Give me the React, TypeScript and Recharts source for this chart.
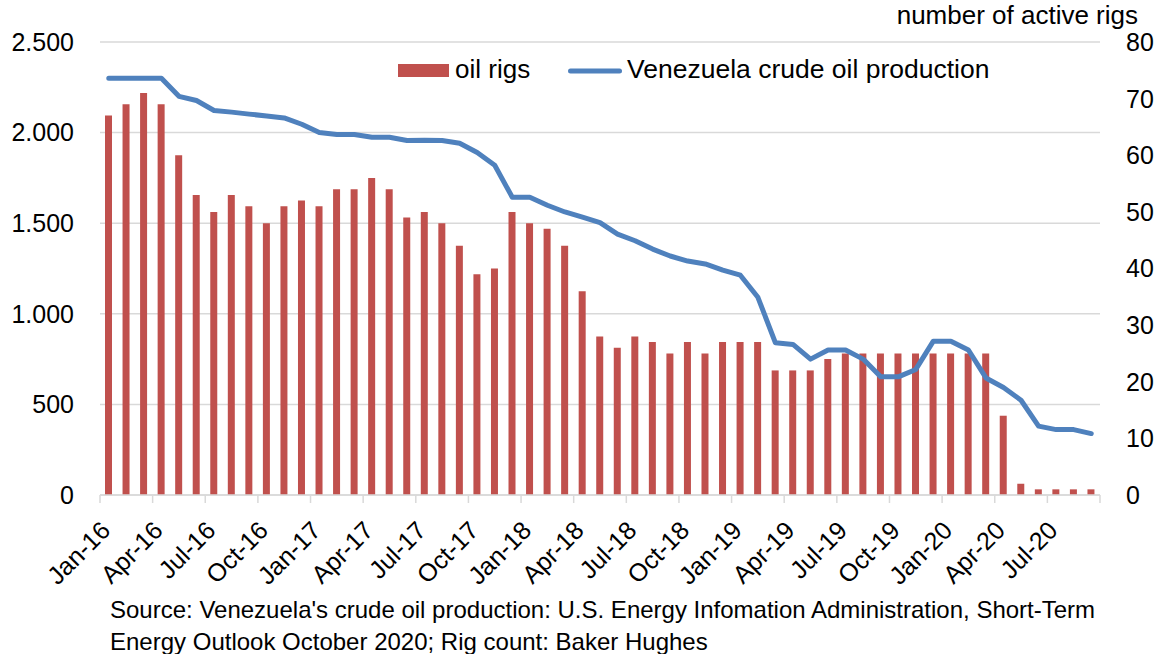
import React from "react";
import {
  ComposedChart,
  Bar,
  Line,
  XAxis,
  YAxis,
  CartesianGrid,
  Legend,
} from "recharts";

const months = [
  "Jan-16", "Feb-16", "Mar-16", "Apr-16", "May-16", "Jun-16", "Jul-16", "Aug-16", "Sep-16", "Oct-16", "Nov-16", "Dec-16",
  "Jan-17", "Feb-17", "Mar-17", "Apr-17", "May-17", "Jun-17", "Jul-17", "Aug-17", "Sep-17", "Oct-17", "Nov-17", "Dec-17",
  "Jan-18", "Feb-18", "Mar-18", "Apr-18", "May-18", "Jun-18", "Jul-18", "Aug-18", "Sep-18", "Oct-18", "Nov-18", "Dec-18",
  "Jan-19", "Feb-19", "Mar-19", "Apr-19", "May-19", "Jun-19", "Jul-19", "Aug-19", "Sep-19", "Oct-19", "Nov-19", "Dec-19",
  "Jan-20", "Feb-20", "Mar-20", "Apr-20", "May-20", "Jun-20", "Jul-20", "Aug-20", "Sep-20",
];

// number of active oil rigs (right axis)
const oilRigs = [
  67, 69, 71, 69, 60, 53, 50, 53, 51, 48, 51, 52,
  51, 54, 54, 56, 54, 49, 50, 48, 44, 39, 40, 50,
  48, 47, 44, 36, 28, 26, 28, 27, 25, 27, 25, 27,
  27, 27, 22, 22, 22, 24, 25, 25, 25, 25, 25, 25,
  25, 25, 25, 14, 2, 1, 1, 1, 1,
];

// Venezuela crude oil production, thousand b/d (left axis)
const production = [
  2300, 2300, 2300, 2300, 2200, 2177, 2122, 2113, 2102, 2092, 2081, 2046,
  2000, 1989, 1989, 1974, 1974, 1956, 1958, 1956, 1941, 1890, 1820, 1643,
  1643, 1599, 1562, 1533, 1503, 1440, 1403, 1357, 1319, 1291, 1275, 1241,
  1213, 1091, 840, 831, 750, 800, 800, 750, 652, 652, 693, 849,
  849, 800, 646, 593, 523, 380, 361, 361, 339,
];

const leftTicks = [0, 500, 1000, 1500, 2000, 2500];
const rightTicks = [0, 10, 20, 30, 40, 50, 60, 70, 80];

const seriesNames = { rigs: "oil rigs", production: "Venezuela crude oil production" };
const rightAxisTitle = "number of active rigs";
const sourceLines = [
  "Source: Venezuela's crude oil production: U.S. Energy Infomation Administration, Short-Term",
  "Energy Outlook October 2020; Rig count: Baker Hughes",
];

const data = months.map((m, i) => ({ month: m, rigs: oilRigs[i], production: production[i] }));

const W = 1165;
const H = 654;
const PLOT_LEFT = 100;
const PLOT_RIGHT = 1100;
const PLOT_TOP = 42;
const PLOT_BOTTOM = 495;
const PLOT_W = PLOT_RIGHT - PLOT_LEFT;
const BAND = PLOT_W / months.length;
const FONT = "'Liberation Sans', Arial, Helvetica, sans-serif";
const RED = "#c0504d";
const BLUE = "#4f81bd";
const GRID = "#d9d9d9";

const fmtThousands = (v: number) => String(v).replace(/\B(?=(\d{3})+(?!\d))/g, ".");

function MonthTick(props: any) {
  const { x, payload } = props;
  const idx = months.indexOf(payload.value);
  const marks = [x - BAND / 2];
  if (idx + 3 >= months.length) marks.push(x + BAND / 2 + (months.length - 1 - idx) * BAND);
  const tx = x + 3;
  const ty = PLOT_BOTTOM + 37;
  return (
    <g>
      {marks.map((mx, i) => (
        <line key={i} x1={mx} x2={mx} y1={PLOT_BOTTOM} y2={PLOT_BOTTOM + 8} stroke={GRID} strokeWidth={1.5} />
      ))}
      <text
        x={tx}
        y={ty}
        textAnchor="end"
        transform={`rotate(-45 ${tx} ${ty})`}
        fontSize={25}
        fontFamily={FONT}
        fill="#000"
      >
        {payload.value}
      </text>
    </g>
  );
}

function LegendContent() {
  return (
    <svg width={620} height={40} style={{ display: "block" }}>
      <rect x={8} y={14} width={51} height={13} fill={RED} />
      <text x={65} y={28} fontSize={26} fontFamily={FONT} fill="#000">
        {seriesNames.rigs}
      </text>
      <line x1={180.5} x2={229.5} y1={21} y2={21} stroke={BLUE} strokeWidth={5} strokeLinecap="round" />
      <text x={237} y={28} fontSize={26.5} fontFamily={FONT} fill="#000">
        {seriesNames.production}
      </text>
    </svg>
  );
}

export default function App() {
  return (
    <div
      style={{
        position: "absolute",
        left: 0,
        top: 0,
        width: W,
        height: H,
        background: "#fff",
        fontFamily: FONT,
        overflow: "hidden",
      }}
    >
      <ComposedChart
        width={W}
        height={H}
        data={data}
        margin={{ top: PLOT_TOP, left: 0, right: 0, bottom: H - PLOT_BOTTOM - 60 }}
        barCategoryGap={0}
      >
        <CartesianGrid yAxisId="left" vertical={false} stroke={GRID} strokeWidth={1.5} />
        <XAxis
          dataKey="month"
          interval={2}
          height={60}
          tickLine={false}
          axisLine={{ stroke: GRID, strokeWidth: 1.5 }}
          tick={<MonthTick />}
        />
        <YAxis
          yAxisId="left"
          width={PLOT_LEFT}
          domain={[0, 2500]}
          ticks={leftTicks}
          tickFormatter={fmtThousands}
          axisLine={false}
          tickLine={false}
          tickMargin={20}
          tick={{ fill: "#000", fontSize: 25, fontFamily: FONT }}
        />
        <YAxis
          yAxisId="right"
          orientation="right"
          width={W - PLOT_RIGHT}
          domain={[0, 80]}
          ticks={rightTicks}
          axisLine={false}
          tickLine={false}
          tickMargin={20}
          tick={{ fill: "#000", fontSize: 25, fontFamily: FONT }}
        />
        <Legend
          layout="horizontal"
          verticalAlign="middle"
          align="center"
          content={<LegendContent />}
          wrapperStyle={{ position: "absolute", left: 390, top: 50, width: 620, height: 40 }}
        />
        <Bar yAxisId="right" dataKey="rigs" name={seriesNames.rigs} fill={RED} barSize={7} isAnimationActive={false} />
        <Line
          yAxisId="left"
          dataKey="production"
          name={seriesNames.production}
          type="linear"
          stroke={BLUE}
          strokeWidth={5}
          strokeLinecap="round"
          strokeLinejoin="round"
          dot={false}
          activeDot={false}
          isAnimationActive={false}
        />
      </ComposedChart>
      <svg
        width={W}
        height={H}
        style={{ position: "absolute", left: 0, top: 0, pointerEvents: "none" }}
      >
        <text x={1138} y={24} textAnchor="end" fontSize={26} fontFamily={FONT} fill="#000">
          {rightAxisTitle}
        </text>
        {sourceLines.map((s, i) => (
          <text key={i} x={110} y={618 + i * 32} fontSize={24} fontFamily={FONT} fill="#000">
            {s}
          </text>
        ))}
      </svg>
    </div>
  );
}
